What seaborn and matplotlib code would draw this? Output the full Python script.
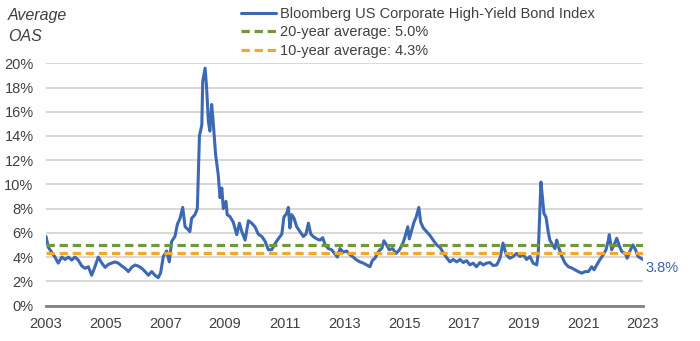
import matplotlib
matplotlib.use("Agg")
import matplotlib.pyplot as plt
from matplotlib.lines import Line2D
import seaborn as sns
import pandas as pd

# ---------------- data ----------------
years = [
    2003.00, 2003.08, 2003.19, 2003.30, 2003.41, 2003.53, 2003.64, 2003.75, 2003.86, 2003.97,
    2004.08, 2004.20, 2004.31, 2004.42, 2004.53, 2004.64, 2004.75, 2004.87, 2004.98, 2005.09,
    2005.20, 2005.31, 2005.42, 2005.54, 2005.65, 2005.76, 2005.87, 2005.98, 2006.09, 2006.21,
    2006.32, 2006.43, 2006.54, 2006.65, 2006.76, 2006.84, 2006.93, 2007.04, 2007.13, 2007.21,
    2007.32, 2007.40, 2007.49, 2007.58, 2007.66, 2007.77, 2007.82, 2007.88, 2007.99, 2008.07,
    2008.14, 2008.22, 2008.25, 2008.33, 2008.38, 2008.44, 2008.49, 2008.55, 2008.60, 2008.68,
    2008.77, 2008.83, 2008.89, 2008.94, 2009.03, 2009.07, 2009.16, 2009.27, 2009.39, 2009.48,
    2009.56, 2009.67, 2009.78, 2009.89, 2010.00, 2010.11, 2010.23, 2010.34, 2010.45, 2010.56,
    2010.67, 2010.78, 2010.90, 2010.97, 2011.06, 2011.12, 2011.17, 2011.23, 2011.31, 2011.40,
    2011.51, 2011.62, 2011.71, 2011.79, 2011.87, 2011.95, 2012.07, 2012.18, 2012.27, 2012.35,
    2012.46, 2012.57, 2012.68, 2012.76, 2012.85, 2012.96, 2013.07, 2013.18, 2013.29, 2013.41,
    2013.52, 2013.63, 2013.74, 2013.85, 2013.94, 2014.02, 2014.10, 2014.19, 2014.25, 2014.32,
    2014.41, 2014.50, 2014.61, 2014.73, 2014.84, 2014.95, 2015.03, 2015.12, 2015.17, 2015.25,
    2015.33, 2015.40, 2015.49, 2015.55, 2015.64, 2015.75, 2015.86, 2015.97, 2016.09, 2016.20,
    2016.31, 2016.42, 2016.53, 2016.64, 2016.76, 2016.87, 2016.98, 2017.09, 2017.20, 2017.31,
    2017.42, 2017.54, 2017.65, 2017.76, 2017.87, 2017.98, 2018.10, 2018.21, 2018.31, 2018.37,
    2018.42, 2018.54, 2018.65, 2018.76, 2018.88, 2018.99, 2019.10, 2019.21, 2019.32, 2019.44,
    2019.49, 2019.55, 2019.58, 2019.64, 2019.68, 2019.75, 2019.83, 2019.88, 2019.97, 2020.05,
    2020.11, 2020.16, 2020.28, 2020.39, 2020.50, 2020.61, 2020.72, 2020.83, 2020.95, 2021.06,
    2021.17, 2021.28, 2021.36, 2021.45, 2021.56, 2021.67, 2021.76, 2021.84, 2021.87, 2021.95,
    2022.03, 2022.12, 2022.21, 2022.29, 2022.40, 2022.47, 2022.58, 2022.66, 2022.75, 2022.83,
    2022.93, 2023.00,
]
oas = [
    5.7, 4.8, 4.4, 4.0, 3.5, 4.0, 3.8, 4.0, 3.75, 4.0,
    3.75, 3.26, 3.07, 3.2, 2.5, 3.2, 4.0, 3.5, 3.15, 3.4,
    3.5, 3.6, 3.5, 3.26, 3.07, 2.8, 3.15, 3.34, 3.26, 3.07,
    2.8, 2.5, 2.8, 2.5, 2.3, 2.7, 4.05, 4.5, 3.6, 5.3,
    5.7, 6.7, 7.2, 8.1, 6.5, 6.25, 6.1, 7.2, 7.5, 8.0,
    14.0, 14.9, 18.5, 19.6, 18.0, 15.2, 14.4, 16.6, 15.2, 12.5,
    10.8, 8.9, 9.7, 8.0, 8.6, 7.5, 7.35, 6.9, 5.85, 6.8,
    6.1, 5.4, 7.0, 6.8, 6.5, 5.9, 5.7, 5.3, 4.6, 4.6,
    5.1, 5.5, 5.9, 7.3, 7.6, 8.1, 6.4, 7.5, 7.2, 6.5,
    6.1, 5.7, 5.9, 6.8, 5.9, 5.7, 5.5, 5.4, 5.6, 5.0,
    4.7, 4.6, 4.25, 4.0, 4.7, 4.4, 4.5, 4.2, 4.0, 3.75,
    3.6, 3.5, 3.35, 3.2, 3.75, 3.9, 4.3, 4.6, 4.7, 5.35,
    5.0, 4.6, 4.7, 4.3, 4.6, 5.1, 5.7, 6.5, 5.5, 6.2,
    6.9, 7.3, 8.1, 6.9, 6.4, 6.1, 5.8, 5.4, 5.0, 4.8,
    4.35, 3.95, 3.6, 3.8, 3.6, 3.8, 3.55, 3.7, 3.35, 3.5,
    3.2, 3.55, 3.35, 3.5, 3.55, 3.3, 3.35, 3.9, 5.15, 4.6,
    4.2, 3.9, 4.05, 4.3, 4.05, 4.2, 3.8, 4.05, 3.5, 3.35,
    4.3, 8.2, 10.2, 8.7, 7.6, 7.3, 6.0, 5.4, 5.0, 4.7,
    5.4, 4.9, 4.05, 3.5, 3.2, 3.1, 2.95, 2.8, 2.67, 2.8,
    2.8, 3.2, 2.95, 3.35, 3.8, 4.2, 4.6, 5.4, 5.85, 4.6,
    5.0, 5.55, 4.9, 4.45, 4.3, 3.9, 4.6, 5.0, 4.6, 4.05,
    3.9, 3.8,
]
avg_20yr = 5.0
avg_10yr = 4.3
series_label = "Bloomberg US Corporate High-Yield Bond Index"
avg20_label = "20-year average: 5.0%"
avg10_label = "10-year average: 4.3%"
end_label = "3.8%"
x_ticks = [2003, 2005, 2007, 2009, 2011, 2013, 2015, 2017, 2019, 2021, 2023]
y_ticks = [0, 2, 4, 6, 8, 10, 12, 14, 16, 18, 20]
y_title = "Average\nOAS"

# ---------------- style ----------------
BLUE = "#3D68B4"
GREEN = "#71983E"
ORANGE = "#F0A92C"
TXT = "#404040"

sns.set_theme(style="white")
plt.rcParams["font.family"] = ["Liberation Sans", "DejaVu Sans"]

W, H = 700, 341
fig = plt.figure(figsize=(W / 100, H / 100), dpi=100)
x0, x1 = 46, 643
y_top, y_bot = 63.3, 305.5
ax = fig.add_axes([x0 / W, 1 - y_bot / H, (x1 - x0) / W, (y_bot - y_top) / H])

df = pd.DataFrame({"year": years, "oas": oas})
sns.lineplot(data=df, x="year", y="oas", ax=ax, color=BLUE, lw=2.2,
             zorder=3, legend=False)

span = [years[0], years[-1]]
avg_df = pd.DataFrame({"year": span * 2,
                       "value": [avg_20yr] * 2 + [avg_10yr] * 2,
                       "which": [avg20_label] * 2 + [avg10_label] * 2})
for lab, col in [(avg20_label, GREEN), (avg10_label, ORANGE)]:
    sub = avg_df[avg_df["which"] == lab]
    sns.lineplot(data=sub, x="year", y="value", ax=ax, color=col, lw=2.3,
                 dashes=False, zorder=4, legend=False)
for line in ax.lines[1:]:
    line.set_dashes((2.6, 1.5))
    line.set_solid_capstyle("butt")

ax.set_xlim(x_ticks[0], x_ticks[-1])
ax.set_ylim(y_ticks[0], y_ticks[-1])
ax.set_xticks(x_ticks)
ax.set_xticklabels([str(t) for t in x_ticks])
ax.set_yticks(y_ticks)
ax.set_yticklabels([f"{t}%" for t in y_ticks])
ax.set_xlabel("")
ax.set_ylabel("")
ax.tick_params(axis="both", length=0, labelsize=10.5, labelcolor=TXT)
ax.tick_params(axis="y", pad=9)
ax.tick_params(axis="x", pad=8)
ax.yaxis.grid(True, color="#D6D6D6", lw=1.3)
ax.xaxis.grid(False)
for s in ["top", "right", "left"]:
    ax.spines[s].set_visible(False)
ax.spines["bottom"].set_color("#808080")
ax.spines["bottom"].set_linewidth(2.0)
ax.spines["bottom"].set_zorder(5)

ax.annotate(end_label, xy=(years[-1], oas[-1]), xytext=(2, -6),
            textcoords="offset points", ha="left", va="center",
            color="#3A62A8", fontsize=10.5, annotation_clip=False)

fig.text(8 / W, 1 - 26 / H, y_title, ha="left", va="center", fontsize=11.5,
         style="italic", color=TXT, linespacing=1.45)

handles = [Line2D([], [], color=BLUE, lw=2.2),
           Line2D([], [], color=GREEN, lw=2.3, dashes=(2.6, 1.5)),
           Line2D([], [], color=ORANGE, lw=2.3, dashes=(2.6, 1.5))]
leg = fig.legend(handles, [series_label, avg20_label, avg10_label],
                 loc="upper left", bbox_to_anchor=(241 / W, 1 - 7 / H),
                 frameon=False, borderpad=0, borderaxespad=0,
                 handlelength=2.4, handletextpad=0.25, labelspacing=0.3,
                 prop={"size": 10.5})
for t in leg.get_texts():
    t.set_color(TXT)

fig.savefig("out.png", dpi=100)
